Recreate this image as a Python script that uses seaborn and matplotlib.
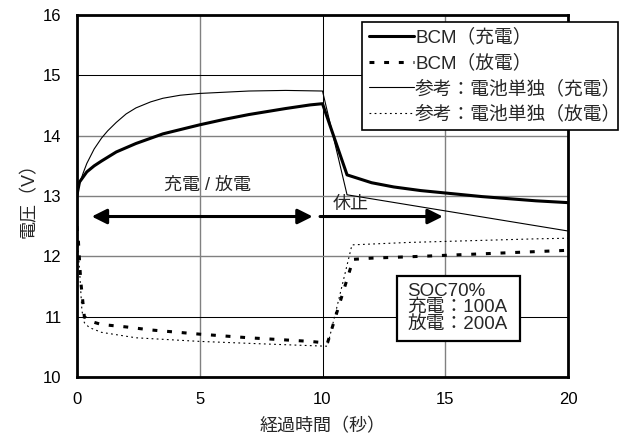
import matplotlib
matplotlib.use("Agg")
import matplotlib.pyplot as plt
from matplotlib.patches import Rectangle
import seaborn as sns

# Elapsed time [s] and voltage [V] for each series
t_bcm_chg = [0, 0.1, 0.4, 0.7, 1.0, 1.6, 2.4, 3.5, 5.0, 6.0, 7.0, 8.5, 9.5, 10.0,
             11.0, 12.0, 12.9, 14.0, 15.0, 16.5, 18.7, 20.0]
v_bcm_chg = [13.02, 13.23, 13.40, 13.50, 13.58, 13.73, 13.87, 14.03, 14.18, 14.27, 14.35, 14.45, 14.51, 14.53,
             13.35, 13.22, 13.15, 13.09, 13.05, 12.99, 12.92, 12.89]

t_bcm_dis = [0, 0.05, 0.15, 0.3, 0.5, 1.0, 2.0, 3.0, 5.0, 7.0, 9.5, 10.0, 10.2,
             11.25, 12.0, 14.0, 17.0, 20.0]
v_bcm_dis = [12.5, 12.3, 11.6, 11.0, 10.93, 10.87, 10.83, 10.78, 10.71, 10.65, 10.59, 10.57, 10.56,
             11.95, 11.97, 12.0, 12.05, 12.1]

t_ref_chg = [0, 0.1, 0.25, 0.4, 0.7, 1.0, 1.25, 1.6, 2.0, 2.4, 3.0, 3.5, 4.2, 5.0, 6.0, 7.0, 8.5, 10.0,
             11.0, 20.0]
v_ref_chg = [13.05, 13.2, 13.38, 13.54, 13.78, 13.96, 14.08, 14.22, 14.36, 14.46, 14.56, 14.62, 14.67, 14.70,
             14.72, 14.74, 14.75, 14.74,
             13.02, 12.42]

t_ref_dis = [0, 0.1, 0.2, 0.3, 0.5, 1.0, 2.4, 5.0, 7.5, 9.5, 10.2, 11.2, 13.5, 18.7, 20.0]
v_ref_dis = [12.35, 11.8, 11.1, 10.9, 10.82, 10.74, 10.65, 10.59, 10.55, 10.52, 10.51, 12.19, 12.23, 12.29, 12.3]

series_labels = ["BCM（充電）", "BCM（放電）", "参考：電池単独（充電）", "参考：電池単独（放電）"]
x_ticks = [0, 5, 10, 15, 20]
y_ticks = [10, 11, 12, 13, 14, 15, 16]
note_lines = ["SOC70%", "充電：100A", "放電：200A"]

sns.set_style("white")
plt.rcParams["font.family"] = ["Liberation Sans", "Noto Sans CJK JP"]

fig = plt.figure(figsize=(6.29, 4.41), dpi=100)
ax = fig.add_axes([77 / 629, 1 - 377 / 441, (568 - 77) / 629, (377 - 15) / 441])

sns.lineplot(x=t_bcm_chg, y=v_bcm_chg, ax=ax, color="black", linewidth=2.2,
             linestyle="-", label=series_labels[0], sort=False, estimator=None)
sns.lineplot(x=t_bcm_dis, y=v_bcm_dis, ax=ax, color="black", linewidth=2.2,
             linestyle=(0, (1.6, 3.2)), label=series_labels[1], sort=False, estimator=None)
sns.lineplot(x=t_ref_chg, y=v_ref_chg, ax=ax, color="black", linewidth=0.8,
             linestyle="-", label=series_labels[2], sort=False, estimator=None)
sns.lineplot(x=t_ref_dis, y=v_ref_dis, ax=ax, color="black", linewidth=0.8,
             linestyle=(0, (1.6, 3.0)), label=series_labels[3], sort=False, estimator=None)

ax.set_xlim(0, 20)
ax.set_ylim(10, 16)
ax.set_xticks(x_ticks)
ax.set_yticks(y_ticks)
ax.tick_params(length=0, pad=11, labelsize=12, colors="black")
ax.set_xlabel("経過時間（秒）", fontsize=13, labelpad=8)
ax.set_ylabel("電圧（V）", fontsize=13, labelpad=4)

for sp in ax.spines.values():
    sp.set_visible(True)
    sp.set_color("black")
    sp.set_linewidth(2.0)

# grid: a few lines drawn crisp black, the rest grey
ax.grid(True)
dark_x = {10}
dark_y = {11, 15}
for val, gl in zip(x_ticks, ax.get_xgridlines()):
    if val in dark_x:
        gl.set_color("black"); gl.set_linewidth(0.75)
    else:
        gl.set_color("#808080"); gl.set_linewidth(1.0)
for val, gl in zip(y_ticks, ax.get_ygridlines()):
    if val in dark_y:
        gl.set_color("black"); gl.set_linewidth(0.75)
    else:
        gl.set_color("#808080"); gl.set_linewidth(1.0)

# charge / discharge period and rest period arrows
arrow_y = 12.66
ax.annotate("", xy=(9.6, arrow_y), xytext=(0.6, arrow_y),
            arrowprops=dict(arrowstyle="<|-|>,head_length=0.6,head_width=0.3",
                            mutation_scale=15, lw=2.2, color="black",
                            shrinkA=0, shrinkB=0))
ax.annotate("", xy=(14.9, arrow_y), xytext=(9.9, arrow_y),
            arrowprops=dict(arrowstyle="-|>,head_length=0.6,head_width=0.3",
                            mutation_scale=15, lw=2.2, color="black",
                            shrinkA=0, shrinkB=0))
ax.text(5.3, 13.17, "充電 / 放電", ha="center", va="center", fontsize=13)
ax.text(10.4, 12.86, "休止", ha="left", va="center", fontsize=13)

# test condition box
ax.add_patch(Rectangle((13.03, 10.60), 5.01, 1.08, transform=ax.transData,
                       fc="white", ec="black", lw=1.6, zorder=4))
ax.text(13.45, 11.15, "\n".join(note_lines), ha="left", va="center", fontsize=13.5,
        linespacing=0.95, zorder=5)

handles, labels = ax.get_legend_handles_labels()
leg = ax.legend(handles, labels, loc="upper left",
                bbox_to_anchor=(362 / 629, 0.68, (618 - 362) / 629, 1 - 22 / 441 - 0.68),
                bbox_transform=fig.transFigure, mode="expand",
                fontsize=13.5, frameon=True, fancybox=False, framealpha=1,
                edgecolor="black", handlelength=2.4, handletextpad=0.08,
                labelspacing=0.42, borderpad=0.35, borderaxespad=0)
leg.get_frame().set_linewidth(1.2)

fig.savefig("out.png", dpi=100)
